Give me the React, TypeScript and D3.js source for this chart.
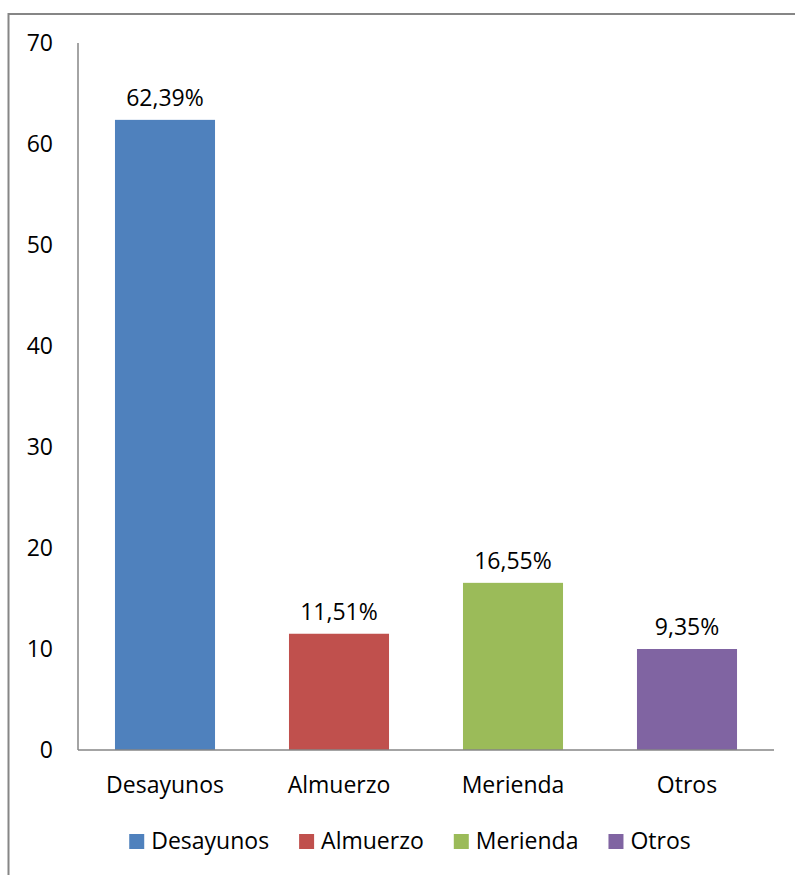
import React, { useEffect, useRef } from "react";
import * as d3 from "d3";

const categories = ["Desayunos", "Almuerzo", "Merienda", "Otros"];
const values = [62.39, 11.51, 16.55, 10.0];
const valueLabels = ["62,39%", "11,51%", "16,55%", "9,35%"];
const colors = ["#4F81BD", "#C0504D", "#9BBB59", "#8064A2"];
const yTicks = [0, 10, 20, 30, 40, 50, 60, 70];

const W = 795;
const H = 875;
const FONT = "'Open Sans', 'Noto Sans', sans-serif";

export default function App() {
  const legendRef = useRef<SVGGElement>(null);

  const x = d3.scaleBand<string>().domain(categories).range([78, 774]).paddingInner(0.425).paddingOuter(0.2125);
  const y = d3.scaleLinear().domain([0, 70]).range([750, 43]);

  useEffect(() => {
    const g = d3.select(legendRef.current);
    g.selectAll("*").remove();
    const items = g
      .selectAll("g.item")
      .data(categories)
      .join("g")
      .attr("class", "item");
    items
      .append("rect")
      .attr("width", 15)
      .attr("height", 15)
      .attr("y", -15)
      .attr("fill", (_d, i) => colors[i]);
    items
      .append("text")
      .attr("x", 22)
      .attr("y", 0)
      .attr("font-family", FONT)
      .attr("font-size", 23)
      .attr("fill", "#000")
      .text((d) => d);
    const gap = 30;
    let cx = 0;
    const widths: number[] = [];
    items.each(function () {
      const t = d3.select(this).select("text").node() as SVGTextElement;
      widths.push(22 + t.getComputedTextLength());
    });
    const total = d3.sum(widths) + gap * (widths.length - 1);
    const start = 410 - total / 2;
    items.attr("transform", (_d, i) => {
      const pos = start + cx;
      cx += widths[i] + gap;
      return `translate(${pos},849)`;
    });
  }, []);

  return (
    <svg
      width={W}
      height={H}
      style={{ position: "absolute", left: 0, top: 0, background: "#fff" }}
    >
      <rect x={8.5} y={14} width={W + 20} height={H + 20} fill="#fff" stroke="#868686" strokeWidth={2} />
      {yTicks.map((t) => (
        <text
          key={t}
          x={53}
          y={y(t)}
          dy="0.35em"
          textAnchor="end"
          fontFamily={FONT}
          fontSize={23}
          fill="#000"
        >
          {t}
        </text>
      ))}
      {categories.map((c, i) => (
        <g key={c}>
          <rect
            x={x(c)}
            y={y(values[i])}
            width={x.bandwidth()}
            height={y(0) - y(values[i])}
            fill={colors[i]}
          />
          <text
            x={(x(c) as number) + x.bandwidth() / 2}
            y={y(values[i]) - 14}
            textAnchor="middle"
            fontFamily={FONT}
            fontSize={23}
            fill="#000"
          >
            {valueLabels[i]}
          </text>
          <text
            x={(x(c) as number) + x.bandwidth() / 2}
            y={793}
            textAnchor="middle"
            fontFamily={FONT}
            fontSize={23}
            fill="#000"
          >
            {c}
          </text>
        </g>
      ))}
      <line x1={78} x2={78} y1={43} y2={y(0)} stroke="#868686" strokeWidth={1.5} />
      <line x1={78} x2={774} y1={y(0)} y2={y(0)} stroke="#868686" strokeWidth={1.5} />
      <g ref={legendRef} />
    </svg>
  );
}
